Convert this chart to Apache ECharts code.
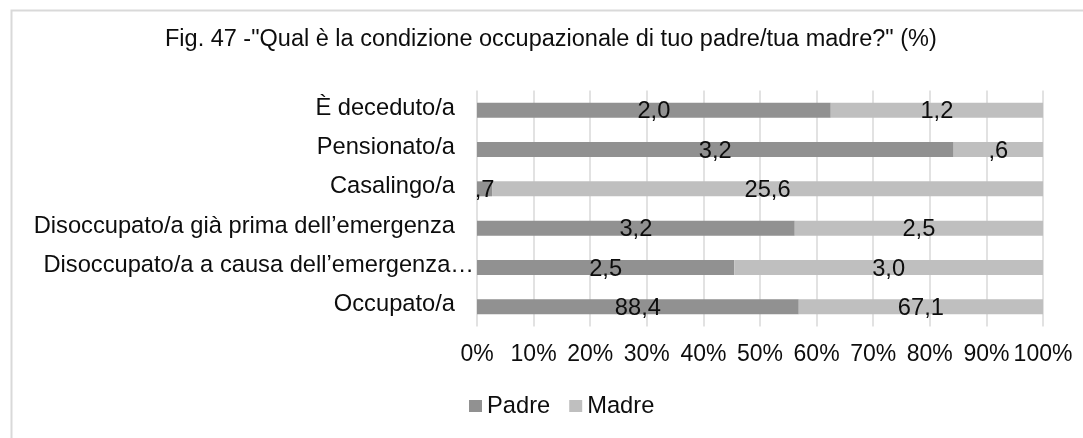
<!DOCTYPE html>
<html>
<head>
<meta charset="utf-8">
<style>
  html, body { margin: 0; padding: 0; background: #ffffff; }
  #chart { width: 1083px; height: 438px; }
</style>
<script src="https://cdn.jsdelivr.net/npm/echarts@6/dist/echarts.min.js"></script>
</head>
<body>
<div id="chart"></div>
<script>
// Occupational condition of father / mother (%), shown as 100% stacked bars
const categories = [
  'È deceduto/a',
  'Pensionato/a',
  'Casalingo/a',
  'Disoccupato/a già prima dell’emergenza',
  'Disoccupato/a a causa dell’emergenza…',
  'Occupato/a'
];
const padre = [2.0, 3.2, 0.7, 3.2, 2.5, 88.4];
const madre = [1.2, 0.6, 25.6, 2.5, 3.0, 67.1];
const seriesNames = ['Padre', 'Madre'];
const tickLabels = ['0%', '10%', '20%', '30%', '40%', '50%', '60%', '70%', '80%', '90%', '100%'];

const FONT = '"Liberation Sans", Arial, sans-serif';
const FS = 23.7;
const INK = '#0d0d0d';

// share of each bar segment within its row (percent of row total)
function share(values, i) {
  const total = padre[i] + madre[i];
  return values[i] / total * 100;
}

// Italian-style value text: "2,0", ",7"
function fmt(v) {
  let s = v.toFixed(1).replace('.', ',');
  if (s.startsWith('0,')) s = s.slice(1);
  return s;
}

function buildSeries(name, values, color) {
  return {
    name: name,
    type: 'bar',
    stack: 'total',
    barWidth: 15,
    itemStyle: { color: color },
    label: {
      show: true,
      position: 'inside',
      color: INK,
      fontFamily: FONT,
      fontSize: FS,
      offset: [0, 1.5],
      formatter: function (p) { return fmt(values[p.dataIndex]); }
    },
    data: values.map(function (v, i) { return share(values, i); })
  };
}

const chart = echarts.init(document.getElementById('chart'), null, { renderer: 'canvas' });

chart.setOption({
  backgroundColor: '#ffffff',
  animation: false,
  title: {
    text: 'Fig. 47 -"Qual è la condizione occupazionale di tuo padre/tua madre?" (%)',
    left: 165,
    top: 28,
    padding: 0,
    textStyle: { fontFamily: FONT, fontSize: 23.5, fontWeight: 'normal', color: INK }
  },
  graphic: [{
    type: 'rect',
    shape: { x: 11.5, y: 10.5, width: 1100, height: 460 },
    style: { fill: 'none', stroke: '#d9d9d9', lineWidth: 2 },
    silent: true
  }],
  legend: {
    data: seriesNames,
    top: 394,
    left: 469,
    padding: 0,
    itemWidth: 13,
    itemHeight: 12,
    itemGap: 19,
    icon: 'rect',
    textStyle: { fontFamily: FONT, fontSize: FS, color: INK }
  },
  grid: { left: 477, right: 40, top: 90.5, bottom: 111.5, containLabel: false },
  xAxis: {
    type: 'value',
    min: 0,
    max: 100,
    interval: 10,
    axisLine: { show: false },
    axisTick: { show: false },
    splitLine: { show: true, lineStyle: { color: '#d9d9d9', width: 1.5 } },
    axisLabel: {
      margin: 17,
      fontFamily: FONT,
      fontSize: 23,
      color: INK,
      formatter: function (v) { return tickLabels[Math.round(v / 10)]; }
    }
  },
  yAxis: {
    type: 'category',
    inverse: true,
    data: categories,
    axisLine: { show: false },
    axisTick: { show: false },
    axisLabel: {
      margin: 3,
      fontFamily: FONT,
      fontSize: FS,
      color: INK,
      formatter: function (v) {
        return v.endsWith('…') ? '{t|' + v + '}' : '{n|' + v + '}';
      },
      rich: {
        n: { fontFamily: FONT, fontSize: FS, color: INK, padding: [0, 19, 4, 0] },
        t: { fontFamily: FONT, fontSize: FS, color: INK, padding: [0, 0, 4, 0] }
      }
    }
  },
  series: [
    buildSeries(seriesNames[0], padre, '#919191'),
    buildSeries(seriesNames[1], madre, '#bfbfbf')
  ]
});
</script>
</body>
</html>
